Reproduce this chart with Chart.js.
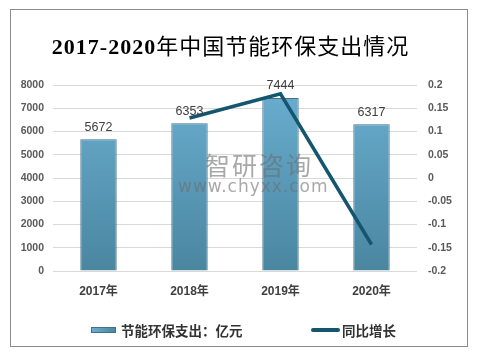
<!DOCTYPE html>
<html>
<head>
<meta charset="utf-8">
<script src="https://cdn.jsdelivr.net/npm/chart.js@4.4.0/dist/chart.umd.min.js"></script>
<style>
	body { margin: 0; background: #fff; }
	#wrap { position: relative; width: 491px; height: 353px; overflow: hidden; }
	#frame { position: absolute; left: 10px; top: 9px; width: 458px; height: 338px; box-sizing: border-box; border: 1px solid #8c8c8c; }
	#chartSpend { position: absolute; left: 0; top: 0; }
	.title { position: absolute; left: 0; top: 30px; width: 461px; text-align: center; font: 400 22px 'Noto Sans CJK SC', serif; letter-spacing: 1px; color: #000; line-height: 28px; }
	.title span { font-family: 'Liberation Serif', serif; font-weight: bold; }
	.legend { position: absolute; top: 321px; height: 18px; font: bold 13.5px 'Noto Sans CJK SC', sans-serif; color: #333; line-height: 18px; white-space: nowrap; }
	.swatch-bar { position: absolute; left: 91px; top: 327px; width: 25px; height: 6px; box-sizing: border-box; border: 1px solid #41728a; background: linear-gradient(to right, #6aaed0, #4a86a0); }
	.swatch-line { position: absolute; left: 311px; top: 328px; width: 29px; height: 4px; border-radius: 2px; background: #13566e; }
	.mark { position: absolute; color: rgba(110, 110, 110, 0.6); white-space: nowrap; }
</style>
</head>
<body>
<div id="wrap">
	<div id="frame"></div>
	<canvas id="chartSpend" width="491" height="353"></canvas>
	<div class="title"><span>2017-2020</span>年中国节能环保支出情况</div>
	<div class="mark" style="left:205px; top:146px; font: 25px 'Noto Sans CJK SC', sans-serif; letter-spacing: 2px;">智研咨询</div>
	<div class="mark" style="left:178px; top:176px; font: 17px 'DejaVu Sans', sans-serif; letter-spacing: 1px;">www.chyxx.com</div>
	<div class="swatch-bar"></div>
	<div class="legend" style="left:121px;">节能环保支出：亿元</div>
	<div class="swatch-line"></div>
	<div class="legend" style="left:342px;">同比增长</div>
</div>
<script>
'use strict'

// CHART_SPEND
const years = ['2017年', '2018年', '2019年', '2020年'];
const spending = [5672, 6353, 7444, 6317];
const growth = [null, 0.129, 0.181, -0.143];
const leftTicks = { min: 0, max: 8000, step: 1000 };
const rightTicks = { min: -0.2, max: 0.2, step: 0.05 };

const colors = {
	barTop: '#6aaed0',
	barBottom: '#4a86a0',
	barBorder: '#41728a',
	line: '#13566e',
	grid: '#d9d9d9',
	tick: '#595959',
	label: '#404040',
};
const fontFamily = "'Liberation Sans', 'Noto Sans CJK SC', sans-serif";

// bar values above each bar
const barLabels = {
	id: 'barLabels',
	afterDatasetsDraw(chart) {
		const ctx = chart.ctx;
		const meta = chart.getDatasetMeta(0);
		ctx.save();
		ctx.font = '12.5px ' + fontFamily;
		ctx.fillStyle = colors.label;
		ctx.textAlign = 'center';
		ctx.textBaseline = 'middle';
		meta.data.forEach((bar, i) => {
			ctx.fillText(String(spending[i]), bar.x, bar.y - 12);
		});
		ctx.restore();
	},
};

let ctx = document.getElementById('chartSpend').getContext('2d');

function barGradient(context) {
	const area = context.chart.chartArea;
	if (!area) return colors.barTop;
	const g = context.chart.ctx.createLinearGradient(0, area.top, 0, area.bottom);
	g.addColorStop(0, colors.barTop);
	g.addColorStop(1, colors.barBottom);
	return g;
}

let chartSpend = new Chart(ctx, {
	data: {
		labels: years,
		datasets: [
			{
				type: 'bar',
				label: '节能环保支出：亿元',
				data: spending,
				yAxisID: 'y',
				order: 2,
				backgroundColor: barGradient,
				borderColor: colors.barBorder,
				borderWidth: 1,
				categoryPercentage: 0.8,
				barPercentage: 0.5,
			},
			{
				type: 'line',
				label: '同比增长',
				data: growth,
				yAxisID: 'y1',
				order: 1,
				borderColor: colors.line,
				borderWidth: 3.5,
				pointRadius: 0,
				tension: 0,
			},
		],
	},
	options: {
		responsive: false,
		animation: false,
		devicePixelRatio: 1,
		layout: {
			padding: { top: 85, left: 0, right: 0, bottom: 0 },
		},
		plugins: {
			legend: { display: false },
			title: { display: false },
			tooltip: { enabled: false },
		},
		scales: {
			x: {
				afterFit(scale) { scale.height = 82; },
				grid: { display: false, drawTicks: false },
				border: { display: false },
				ticks: {
					padding: 13,
					color: colors.label,
					font: { family: fontFamily, size: 12, weight: 'bold' },
				},
			},
			y: {
				position: 'left',
				min: leftTicks.min,
				max: leftTicks.max,
				afterFit(scale) { scale.width = 53; },
				grid: { color: colors.grid, drawTicks: false },
				border: { display: false },
				ticks: {
					stepSize: leftTicks.step,
					padding: 9,
					color: colors.tick,
					font: { family: fontFamily, size: 10.5, weight: 'bold' },
					callback: (v) => String(v),
				},
			},
			y1: {
				position: 'right',
				min: rightTicks.min,
				max: rightTicks.max,
				afterFit(scale) { scale.width = 74; },
				grid: { display: false, drawTicks: false },
				border: { display: false },
				ticks: {
					stepSize: rightTicks.step,
					padding: 11,
					color: colors.tick,
					font: { family: fontFamily, size: 10.5, weight: 'bold' },
					callback: (v) => String(+Number(v).toFixed(2)),
				},
			},
		},
	},
	plugins: [barLabels],
});
</script>
</body>
</html>
